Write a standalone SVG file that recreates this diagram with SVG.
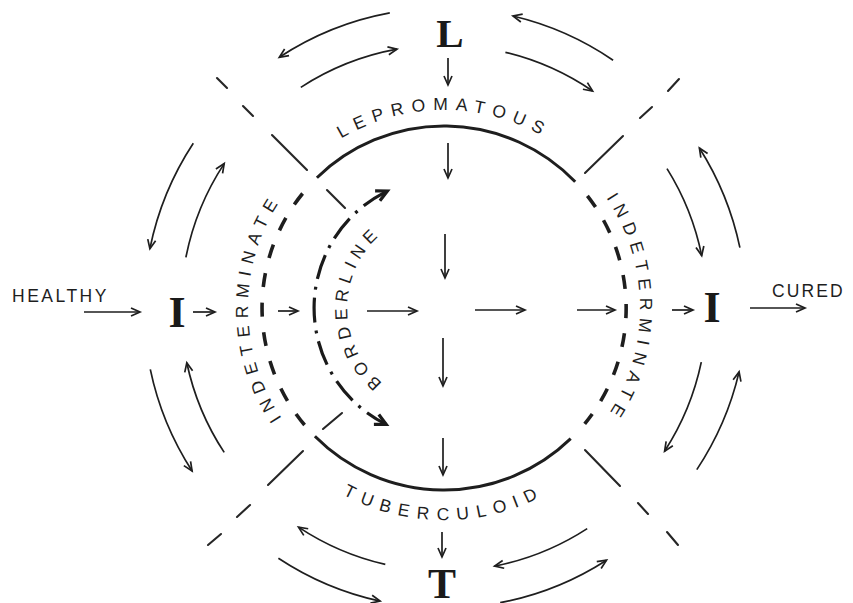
<svg xmlns="http://www.w3.org/2000/svg" width="853" height="603" viewBox="0 0 853 603">
<style>
.arr{fill:none;stroke:#1e1e1e;stroke-width:1.7;marker-end:url(#ah)}
.circ{fill:none;stroke:#1e1e1e;stroke-width:3}
.dsh{fill:none;stroke:#1e1e1e;stroke-width:3.6}
.diag{stroke:#262626;stroke-width:2.1;stroke-linecap:round}
.lbl{font-family:"Liberation Sans",Arial,sans-serif;font-size:17.5px;fill:#1e1e1e}
.big{font-family:"Liberation Serif","Times New Roman",serif;font-weight:bold;fill:#1a1a1a;text-anchor:middle}
</style>
<defs>
<marker id="ah" markerUnits="userSpaceOnUse" markerWidth="16" markerHeight="16" viewBox="-13 -8 16 16" refX="0" refY="0" orient="auto">
<path d="M-9,-4 L0,0 L-9,4" fill="none" stroke="#1e1e1e" stroke-width="1.7"/>
</marker>
<marker id="bh" markerUnits="userSpaceOnUse" markerWidth="20" markerHeight="20" viewBox="-15 -10 20 20" refX="0" refY="0" orient="auto-start-reverse">
<path d="M-11,-5.5 L0,0 L-11,5.5" fill="none" stroke="#1a1a1a" stroke-width="3.2"/>
</marker>
<path id="pLep" d="M 249 273.6 A 198 198 0 0 1 639 273.6"/>
<path id="pTub" d="M 235.2 344.8 A 212 212 0 0 0 652.8 344.8"/>
<path id="pIndL" d="M 377 492.2 A 196 196 0 0 1 377 123.8"/>
<path id="pIndR" d="M 511 123.8 A 196 196 0 0 1 511 492.2"/>
<path id="pBord" d="M 427.2 403.5 A 97 97 0 0 1 427.2 212.5"/>
</defs>
<rect width="853" height="603" fill="#fff"/>

<g id="rings">
<path class="circ" d="M 316.9 177.7 A 182 182 0 0 1 575.2 181.8"/>
<path class="circ" d="M 314.9 436.2 A 182 182 0 0 0 570.7 438.7"/>
<path class="dsh" stroke-dasharray="14 15.6" d="M 304.6 425 A 182 182 0 0 1 302.6 193.5"/>
<path class="dsh" stroke-dasharray="14 15.2" d="M 587.4 195.9 A 182 182 0 0 1 584.7 423.8"/>
<g class="diag">
<line x1="217" y1="78" x2="227" y2="88"/>
<line x1="243" y1="106" x2="253" y2="116"/>
<line x1="272" y1="135" x2="307" y2="170"/>
<line x1="327" y1="190" x2="345" y2="208"/>
<line x1="668" y1="91" x2="679" y2="79"/>
<line x1="640" y1="118" x2="652" y2="107"/>
<line x1="585" y1="173" x2="623" y2="136"/>
<line x1="342" y1="413" x2="323" y2="429"/>
<line x1="303" y1="451" x2="268" y2="485"/>
<line x1="250" y1="505" x2="237" y2="517"/>
<line x1="221" y1="534" x2="208" y2="545"/>
<line x1="585" y1="450" x2="620" y2="486"/>
<line x1="638" y1="503" x2="648" y2="514"/>
<line x1="667" y1="532" x2="678" y2="545"/>
</g>
</g>

<g id="connectors">
<path class="arr" d="M 389.8 12.9 A 300 300 0 0 0 279.3 57.3"/>
<path class="arr" d="M 300.8 87.4 A 263 263 0 0 1 397 49.2"/>
<path class="arr" d="M 613.1 60.2 A 300 300 0 0 0 513 16"/>
<path class="arr" d="M 505.4 52.3 A 263 263 0 0 1 592.6 91"/>
<path class="arr" d="M 193.3 143.3 A 300 300 0 0 0 149.9 248.7"/>
<path class="arr" d="M 185.9 257.4 A 263 263 0 0 1 224.2 163.6"/>
<path class="arr" d="M 150.3 369.4 A 300 300 0 0 0 192.1 471"/>
<path class="arr" d="M 224.2 452.4 A 263 263 0 0 1 186.8 362.7"/>
<path class="arr" d="M 667 168.6 A 263 263 0 0 1 701.7 255.6"/>
<path class="arr" d="M 739.9 247.7 A 302 302 0 0 0 699.4 148"/>
<path class="arr" d="M 701.3 362.2 A 263 263 0 0 1 664.6 451.2"/>
<path class="arr" d="M 696.8 469.6 A 300 300 0 0 0 739.1 371.9"/>
<path class="arr" d="M 278.4 558.2 A 300 300 0 0 0 380.1 601.1"/>
<path class="arr" d="M 385.3 564.4 A 263 263 0 0 1 298.5 527.1"/>
<path class="arr" d="M 587.2 528.6 A 263 263 0 0 1 494.6 566.1"/>
<path class="arr" d="M 500.2 602.7 A 300 300 0 0 0 606.5 560.2"/>
<path class="arr" d="M 448 58 L 448 85"/>
<path class="arr" d="M 448 143 L 448 178"/>
<path class="arr" d="M 445 234 L 445 278"/>
<path class="arr" d="M 443 338 L 443 386"/>
<path class="arr" d="M 443 438 L 443 475"/>
<path class="arr" d="M 442 532 L 442 557"/>
<path class="arr" d="M 84 312 L 140 312"/>
<path class="arr" d="M 193 312 L 215 312"/>
<path class="arr" d="M 278 311 L 298 311"/>
<path class="arr" d="M 367 311 L 417 311"/>
<path class="arr" d="M 475 310 L 525 310"/>
<path class="arr" d="M 577 310 L 615 310"/>
<path class="arr" d="M 672 310 L 693 310"/>
<path class="arr" d="M 750 308 L 805 308"/>
<path d="M 386.2 424.4 A 130 130 0 0 1 387.4 191" fill="none" stroke="#1a1a1a" stroke-width="3.2" stroke-dasharray="3 8 25 8" stroke-dashoffset="13.5" marker-start="url(#bh)" marker-end="url(#bh)"/>
</g>

<g id="L"><text class="big" x="450" y="47" font-size="41">L</text></g>
<g id="T"><text class="big" x="442" y="598" font-size="42">T</text></g>
<g id="I-left"><text class="big" x="177" y="327" font-size="44">I</text></g>
<g id="I-right"><text class="big" x="712" y="322" font-size="44">I</text></g>
<g id="healthy"><text class="lbl" x="12" y="302" font-size="19" letter-spacing="2.5">HEALTHY</text></g>
<g id="cured"><text class="lbl" x="772" y="297" font-size="19" letter-spacing="2.1">CURED</text></g>
<g id="lepromatous"><text class="lbl" letter-spacing="7.6"><textPath href="#pLep" startOffset="50%" text-anchor="middle">LEPROMATOUS</textPath></text></g>
<g id="tuberculoid"><text class="lbl" letter-spacing="7.8"><textPath href="#pTub" startOffset="50%" text-anchor="middle">TUBERCULOID</textPath></text></g>
<g id="indeterminate-left"><text class="lbl" letter-spacing="7.1"><textPath href="#pIndL" startOffset="50%" text-anchor="middle">INDETERMINATE</textPath></text></g>
<g id="indeterminate-right"><text class="lbl" letter-spacing="7.1"><textPath href="#pIndR" startOffset="50%" text-anchor="middle">INDETERMINATE</textPath></text></g>
<g id="borderline"><text class="lbl" letter-spacing="5.7"><textPath href="#pBord" startOffset="50%" text-anchor="middle">BORDERLINE</textPath></text></g>
</svg>
